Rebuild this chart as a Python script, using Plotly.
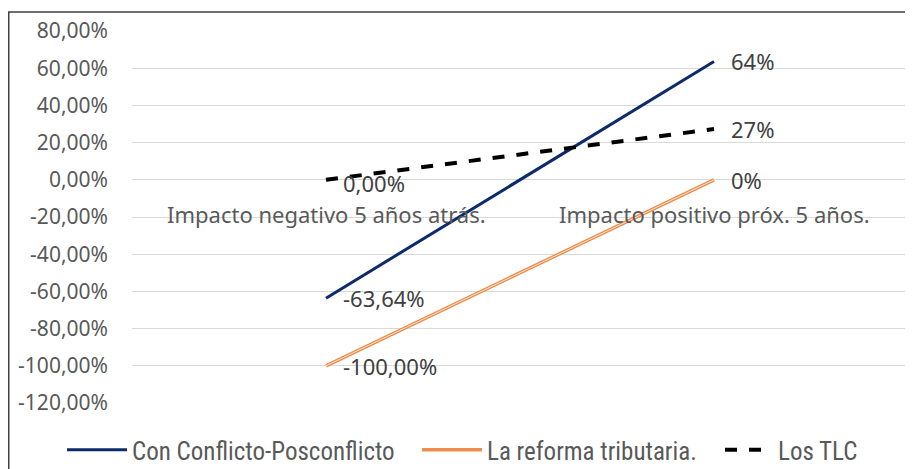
import plotly.graph_objects as go

categories = ["Impacto negativo 5 años atrás.", "Impacto positivo próx. 5 años."]
conflicto = [-0.6364, 0.6364]
reforma = [-1.0, 0.0]
tlc = [0.0, 0.2727]
conflicto_labels = ["-63,64%", "64%"]
reforma_labels = ["-100,00%", "0%"]
tlc_labels = ["0,00%", "27%"]
tick_vals = [0.8, 0.6, 0.4, 0.2, 0.0, -0.2, -0.4, -0.6, -0.8, -1.0, -1.2]
tick_text = ["80,00%", "60,00%", "40,00%", "20,00%", "0,00%", "-20,00%", "-40,00%",
             "-60,00%", "-80,00%", "-100,00%", "-120,00%"]

# the page shows the figure offset by 8px (body margin)
W, H = 905, 461
L, R, T, B = 124, 5, 23, 66
pw = W - L - R
ph = H - T - B

xs = [0, 1]
FONT = "Noto Sans, Open Sans, sans-serif"
lab_font = dict(family=FONT, size=22, color="#404040")

fig = go.Figure()
fig.add_trace(go.Scatter(x=xs, y=conflicto, mode="lines", name="Con Conflicto-Posconflicto",
                         line=dict(color="#0d2a6b", width=3), legend="legend"))
fig.add_trace(go.Scatter(x=xs, y=reforma, mode="lines", name="La reforma tributaria.",
                         line=dict(color="#ec8d4c", width=3.5), legend="legend2"))
fig.add_trace(go.Scatter(x=xs, y=reforma, mode="lines", showlegend=False, hoverinfo="skip",
                         line=dict(color="#fbe3d2", width=1)))
fig.add_trace(go.Scatter(x=xs, y=tlc, mode="lines", name="Los TLC",
                         line=dict(color="#000000", width=4, dash="dash"), legend="legend3"))

# data labels
for vals, labs, dy in [(conflicto, conflicto_labels, 0), (reforma, reforma_labels, 0), (tlc, tlc_labels, -3)]:
    for i in range(2):
        fig.add_annotation(x=xs[i], y=vals[i], text=labs[i], showarrow=False,
                           xanchor="left", yanchor="middle", xshift=15, yshift=dy if i == 0 else 0,
                           font=lab_font)

# category labels
for i, c in enumerate(categories):
    fig.add_annotation(x=xs[i], y=0, text=c, showarrow=False, xanchor="center", yanchor="middle",
                       yshift=-34, font=dict(family=FONT, size=22, color="#595959"))

# border lines (left and top)
fx = lambda px: (px - L) / pw
fy = lambda py: 1 - (py - T) / ph
fig.add_shape(type="line", xref="paper", yref="paper", x0=fx(0.75), x1=fx(0.75), y0=fy(H), y1=fy(4),
              line=dict(color="#404040", width=1.5))
fig.add_shape(type="line", xref="paper", yref="paper", x0=fx(0), x1=fx(W), y0=fy(4), y1=fy(4),
              line=dict(color="#404040", width=1.5))

leg_font = dict(family="Liberation Sans Narrow, Roboto Condensed, Roboto, sans-serif",
                size=25, color="#595959")


def leg(xpx, iw):
    return dict(orientation="h", x=fx(xpx), xanchor="left", y=fy(442), yanchor="middle",
                font=leg_font, itemwidth=iw, bgcolor="rgba(0,0,0,0)")


fig.update_layout(
    width=W, height=H,
    margin=dict(l=L, r=R, t=T, b=B, autoexpand=False),
    plot_bgcolor="white", paper_bgcolor="white",
    xaxis=dict(range=[-0.5, 1.5], showgrid=False, zeroline=False, showticklabels=False,
               showline=False, fixedrange=True, automargin=False),
    yaxis=dict(range=[-1.2, 0.8], tickvals=tick_vals, ticktext=tick_text, showgrid=True,
               gridcolor="#d9d9d9", gridwidth=1, zeroline=False, showline=False,
               ticks="", ticklabelstandoff=23, automargin=False,
               tickfont=dict(family=FONT, size=21, color="#595959")),
    legend=leg(54, 60),
    legend2=leg(409, 60),
    legend3=leg(712, 48),
    showlegend=True,
)
fig.write_html("out.html")
